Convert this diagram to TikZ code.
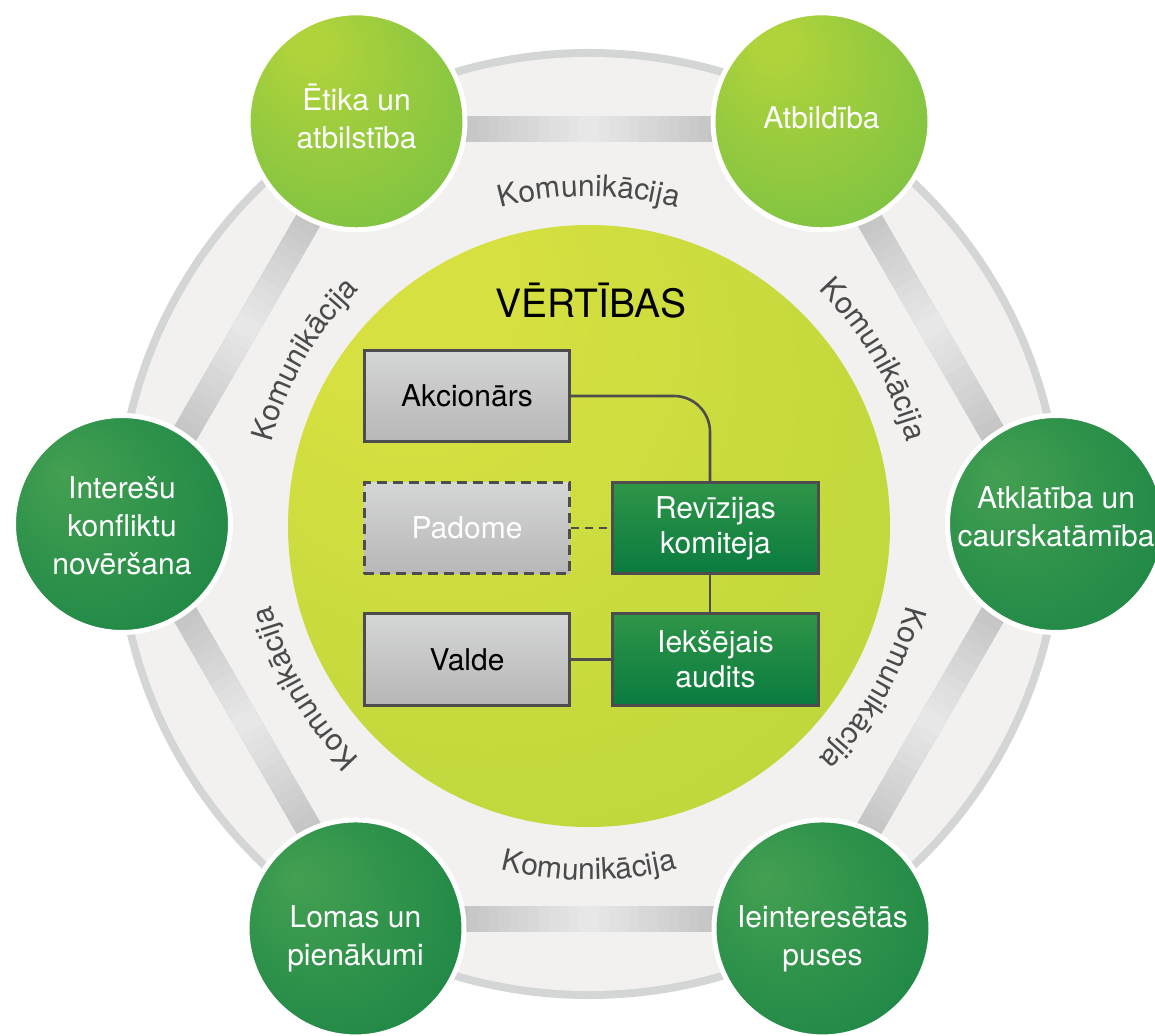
\documentclass[tikz,border=0pt]{standalone}
\usepackage{fontspec}
\setmainfont{TeX Gyre Heros}
\usetikzlibrary{decorations.text,calc}
\definecolor{ringband}{HTML}{D4D6D5}
\definecolor{ringin}{HTML}{F2F1F0}
\definecolor{ringout}{HTML}{E7E7E7}
\definecolor{bardark}{HTML}{C5C5C5}
\definecolor{barlight}{HTML}{E9E9E9}
\definecolor{lgin}{HTML}{B0D33B}
\definecolor{lgout}{HTML}{66BB46}
\definecolor{dgin}{HTML}{44A052}
\definecolor{dgout}{HTML}{0D7C40}
\definecolor{vin}{HTML}{D6E040}
\definecolor{vout}{HTML}{B3D23A}
\definecolor{gbtop}{HTML}{D5D6D6}
\definecolor{gbbot}{HTML}{B7B7B7}
\definecolor{grtop}{HTML}{2F9548}
\definecolor{grbot}{HTML}{0A7B3F}
\definecolor{edgegray}{HTML}{4D4D4D}
\definecolor{komgray}{HTML}{4A4A4A}
\pgfdeclareradialshading{ringshade}{\pgfpoint{0bp}{0bp}}{color(0bp)=(ringin); color(31bp)=(ringin); color(50bp)=(ringout)}
\pgfdeclareradialshading{lgshade}{\pgfpoint{-12bp}{20bp}}{color(0bp)=(lgin); color(4bp)=(lgin); color(50bp)=(lgout)}
\pgfdeclareradialshading{dgshade}{\pgfpoint{-14bp}{12bp}}{color(0bp)=(dgin); color(50bp)=(dgout)}
\pgfdeclareradialshading{vshade}{\pgfpoint{-20bp}{25bp}}{color(0bp)=(vin); color(10bp)=(vin); color(50bp)=(vout)}
\newcommand{\komfont}{\fontsize{30}{30}\selectfont\color{komgray}}
\begin{document}
\begin{tikzpicture}[x=1pt,y=1pt,
  bubble/.style={circle, draw=white, line width=5pt, minimum size=217pt, inner sep=0pt},
  lbubble/.style={bubble, shade, shading=lgshade},
  dbubble/.style={bubble, shade, shading=dgshade},
  bubtext/.style={align=center, text=white, inner sep=0pt, font=\fontsize{30}{38}\selectfont},
  orgbox/.style={draw=edgegray, line width=2.6pt, minimum width=205.5pt, minimum height=91.5pt, inner sep=0pt, align=center, font=\fontsize{30}{35}\selectfont},
  graybox/.style={orgbox, top color=gbtop, bottom color=gbbot, text=black},
  greenbox/.style={orgbox, top color=grtop, bottom color=grbot, text=white},
  link/.style={draw=edgegray, line width=2.6pt},
  komlabel/.style={decorate, decoration={text along path, text align=center, text={|\komfont|Komunikācija}}},
]
\useasboundingbox (-589,-511) rectangle (566,524);
\clip (-589,-511) rectangle (566,524);
\fill[white] (-589,-511) rectangle (566,524);
% ring
\fill[ringband] (0,0) circle[radius=475];
\shade[shading=ringshade] (0,0) circle[radius=467];
% bars
\foreach \a in {0,60,...,300}{
  \begin{scope}[rotate=\a]
    \draw[line width=26pt, bardark] (-232,395) -- (232,395);
    \foreach \i in {0,...,25}{
      \pgfmathsetmacro{\xa}{-130+\i*10}
      \pgfmathsetmacro{\xb}{\xa+10.6}
      \pgfmathtruncatemacro{\mix}{max(0,100-abs(\xa+5)*100/122)}
      \draw[line width=26pt, color=barlight!\mix!bardark] (\xa,395) -- (\xb,395);
    }
  \end{scope}
}
% inner value circle
\shade[shading=vshade] (0,-2) circle[radius=301];
% communication labels
\foreach \a in {150,90,30,-30,-150}{
  \path[komlabel] (\a+30:328) arc[start angle=\a+30, end angle=\a-30, radius=328];
}
\path[komlabel] (-120:356) arc[start angle=-120, end angle=-60, radius=356];
% bubbles
\node[lbubble] (etika) at (120:465) {};
\node[lbubble] (atb) at (60:465) {};
\node[dbubble] (atk) at (0:467) {};
\node[dbubble] (inter) at (180:467) {};
\node[dbubble] (lomas) at (240:467) {};
\node[dbubble] (iein) at (300:467) {};
\node[bubtext] (etikat) at ([yshift=4.5pt]etika.center) {Ētika un\\atbilstība};
\node[bubtext] (atbt) at ([yshift=3pt]atb.center) {Atbildība};
\node[bubtext] (atkt) at ([yshift=7pt]atk.center) {Atklātība un\\caurskatāmība};
\node[bubtext] (intert) at ([yshift=-1.5pt]inter.center) {Interešu\\konfliktu\\novēršana};
\node[bubtext] (lomast) at ([yshift=-10pt]lomas.center) {Lomas un\\pienākumi};
\node[bubtext] (ieint) at ([yshift=-10pt]iein.center) {Ieinteresētās\\puses};
% title
\node[font=\fontsize{39}{39}\selectfont, text=black] (vert) at (2,223) {VĒRTĪBAS};
% boxes
\node[graybox] (akc) at (-122,128) {Akcionārs};
\node[graybox, dashed, dash pattern=on 10pt off 6pt, text=white] (pad) at (-122,-4) {Padome};
\node[graybox] (val) at (-122,-135.5) {Valde};
\node[greenbox] (rev) at (126.5,-4) {Revīzijas\\komiteja};
\node[greenbox] (iek) at (126.5,-135.5) {Iekšējais\\audits};
% connectors
\draw[link, rounded corners=36pt] (akc.east) -| ([xshift=-5.5pt]rev.north);
\draw[link, dashed, dash pattern=on 8pt off 6pt] (pad.east) -- (rev.west);
\draw[link] ([xshift=-5.5pt]rev.south) -- ([xshift=-5.5pt]iek.north);
\draw[link] (val.east) -- (iek.west);
\end{tikzpicture}
\end{document}
